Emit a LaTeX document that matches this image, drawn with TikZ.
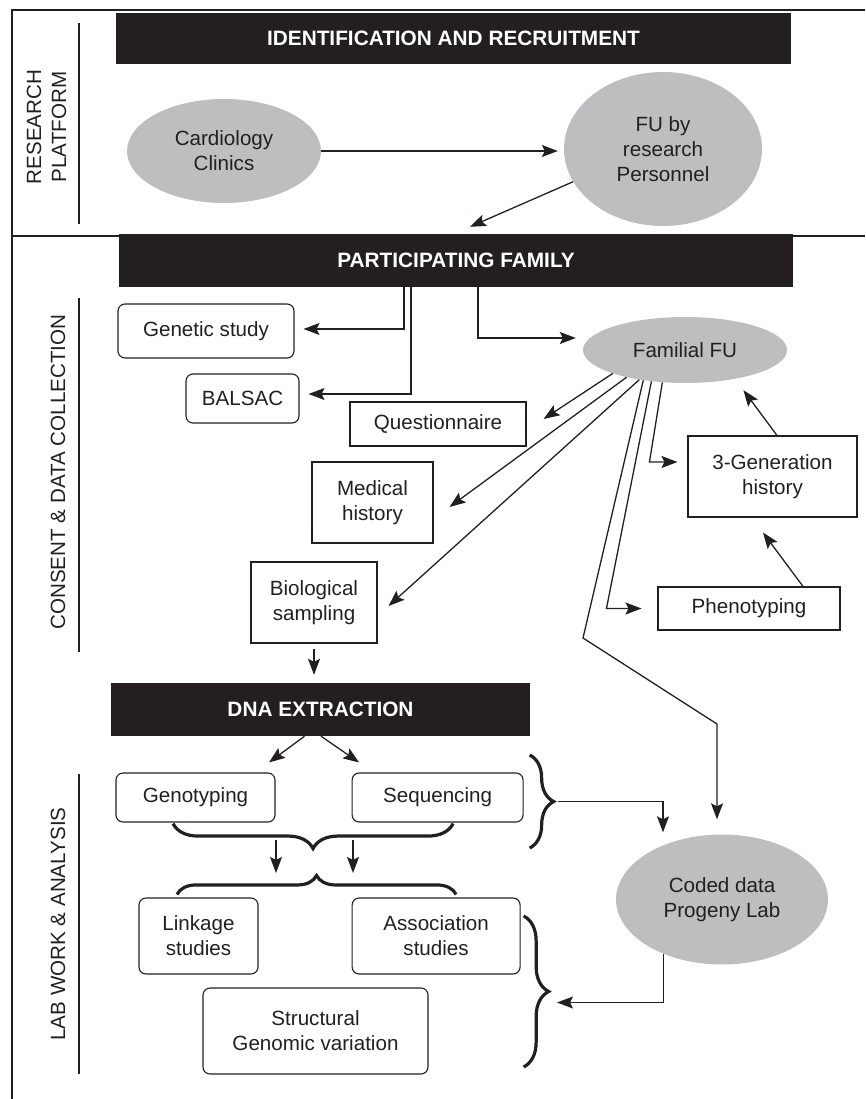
\documentclass[tikz,border=0pt]{standalone}
\usepackage{fontspec}
\setmainfont{Liberation Sans}
\usepackage{tikz}
\usetikzlibrary{positioning,arrows.meta,shapes.geometric,decorations.pathreplacing}
\definecolor{PlainInk}{RGB}{35,31,32}
\definecolor{OvalGrey}{RGB}{188,190,192}

\begin{document}
\begin{tikzpicture}[x=1pt, y=-1pt, font=\fontsize{20.6}{25}\selectfont, text=PlainInk]
  \tikzset{
    banner/.style={fill=PlainInk, text=white, font=\fontsize{20.8}{25}\selectfont\bfseries, inner sep=0pt},
    oval/.style={ellipse, fill=OvalGrey, inner sep=0pt, align=center},
    soft/.style={draw=PlainInk, line width=1.1pt, rounded corners=7pt, inner sep=0pt, align=center},
    plain/.style={draw=PlainInk, line width=1.1pt, inner sep=0pt, align=center},
    side/.style={rotate=90, align=center},
    rule/.style={draw=PlainInk, line width=2.6pt},
    frame/.style={draw=PlainInk, line width=2pt},
    arrow/.style={-{Stealth[length=16pt,width=12pt,inset=3pt]}, line width=1.3pt, draw=PlainInk},
    curly/.style={decorate, decoration={brace, amplitude=#1}, line width=3.2pt, draw=PlainInk}
  }
  \useasboundingbox (0,0) rectangle (865,1099);

  % frame and side labels
  \draw[frame] (865,10) -- (12,10) -- (12,1099);
  \draw[frame] (12,236) -- (865,236);
  \node[side] (rplab) at (46.5,127) {RESEARCH\\PLATFORM};
  \node[side] (cdlab) at (58,472) {CONSENT \& DATA COLLECTION};
  \node[side] (lwlab) at (58,924) {LAB WORK \& ANALYSIS};
  \draw[rule] (79,23) -- (79,224);
  \draw[rule] (79,298) -- (79,652);
  \draw[rule] (79,774) -- (79,1074);

  % banners
  \node[banner, minimum width=675pt, minimum height=51pt] (ident) at (453.5,38.5) {IDENTIFICATION AND RECRUITMENT};
  \node[banner, minimum width=674pt, minimum height=53pt] (family) at (456,260.5) {PARTICIPATING FAMILY};
  \node[banner, minimum width=419pt, minimum height=53pt] (dna) at (320.5,709.5) {DNA EXTRACTION};

  % ovals
  \node[oval, minimum width=194pt, minimum height=104pt] (clinics) at (224,151) {Cardiology\\Clinics};
  \node[oval, minimum width=198pt, minimum height=154pt] (fures) at (663,149) {FU by\\research\\Personnel};
  \node[oval, minimum width=204pt, minimum height=66pt] (familial) at (685,350) {Familial FU};
  \node[oval, minimum width=212pt, minimum height=130pt] (coded) at (722,899.5) {Coded data\\Progeny Lab};

  % consent & data collection
  \node[soft, minimum width=176pt, minimum height=54pt] (genetic) at (206,331) {Genetic study};
  \node[soft, minimum width=113pt, minimum height=49pt] (balsac) at (242.5,398.5) {BALSAC};
  \node[plain, minimum width=176pt, minimum height=44pt] (quest) at (438,424) {Questionnaire};
  \node[plain, minimum width=121pt, minimum height=81pt] (medical) at (372.5,502.5) {Medical\\history};
  \node[plain, minimum width=126pt, minimum height=81pt] (bio) at (314,602.5) {Biological\\sampling};
  \node[plain, minimum width=169pt, minimum height=81pt] (gen3) at (772.5,476.5) {3-Generation\\history};
  \node[plain, minimum width=182pt, minimum height=43pt] (pheno) at (749,608.5) {Phenotyping};

  % lab work & analysis
  \node[soft, minimum width=159pt, minimum height=49pt] (genotyp) at (195.5,797.5) {Genotyping};
  \node[soft, minimum width=171pt, minimum height=49pt, right=76pt of genotyp] (sequen) {Sequencing};
  \node[soft, minimum width=119pt, minimum height=76pt] (linkage) at (198.5,936) {Linkage\\studies};
  \node[soft, minimum width=168pt, minimum height=76pt, right=93pt of linkage] (assoc) {Association\\studies};
  \node[soft, minimum width=225pt, minimum height=86pt] (struct) at (315.5,1031) {Structural\\Genomic variation};

  \coordinate (bendA) at (583,638);
  \coordinate (bendB) at (717,724);
  \coordinate (splitA) at (312.5,848);
  \coordinate (tipC) at (552,801.5);
  \coordinate (tipD) at (547,991.5);

  \draw[arrow, shorten >=6pt] (clinics.east) -- (clinics.east -| fures.west);
  \draw[arrow] (fures.200) -- ([xshift=14pt,yshift=7pt]family.north);

  \draw[arrow, shorten >=9pt] ([xshift=-52pt]family.south) |- ([yshift=2pt]genetic.east);
  \draw[arrow, shorten >=9pt] ([xshift=-45pt]family.south) |- ([yshift=4.5pt]balsac.east);
  \draw[arrow, shorten >=7pt] ([xshift=22pt]family.south) |- ([yshift=12pt]familial.west);

  \draw[arrow] (familial.198) -- ([xshift=17pt,yshift=5pt]quest.east);
  \draw[arrow] (familial.205) -- ([xshift=16pt,yshift=-4.5pt]medical.east);
  \draw[arrow] (familial.213) -- ([xshift=11pt,yshift=-3.5pt]bio.east);
  \draw[arrow, shorten >=15pt] (familial.216) -- (bendA) -- (bendB) -- (bendB |- coded.north);
  \draw[arrow, shorten >=16pt] (familial.223) -- ([xshift=-51pt]pheno.west) -- (pheno.west);
  \draw[arrow, shorten >=10pt] (familial.235) -- ([xshift=-38pt,yshift=14.5pt]gen3.west) -- ([yshift=14.5pt]gen3.west);
  \draw[arrow, shorten >=14pt] ([xshift=4.5pt]gen3.north) -- (familial.330);
  \draw[arrow] ([xshift=54pt]pheno.north) -- ([xshift=-9.5pt,yshift=-15pt]gen3.south);

  \draw[arrow, shorten <=5pt, shorten >=8pt] (bio.south) -- (bio.south |- dna.north);
  \draw[arrow] ([xshift=-16pt]dna.south) -- ([xshift=73.5pt,yshift=10pt]genotyp.north);
  \draw[arrow] ([xshift=0.5pt]dna.south) -- ([xshift=-78.5pt,yshift=10pt]sequen.north);

  % braces
  \draw[curly=25pt] ([xshift=15.5pt,yshift=-1pt]sequen.south) -- ([xshift=-22.5pt,yshift=-1pt]genotyp.south);
  \draw[curly=19pt] ([xshift=-21.5pt,yshift=3pt]linkage.north) -- ([xshift=20pt,yshift=3pt]assoc.north);
  \draw[curly=24pt] ([xshift=6pt,yshift=42.5pt]sequen.east) -- ([xshift=6pt,yshift=-50.5pt]sequen.east);
  \draw[curly=25pt] ([xshift=3pt,yshift=20pt]assoc.east) -- ([xshift=3pt,yshift=-131pt]assoc.east);

  \draw[arrow] ([xshift=-36.5pt,yshift=8pt]splitA) -- ([xshift=-36.5pt,yshift=-25pt]splitA);
  \draw[arrow] ([xshift=40.5pt,yshift=8pt]splitA) -- ([xshift=40.5pt,yshift=-25pt]splitA);
  \draw[arrow] ([xshift=6pt]tipC) -| ([xshift=-59pt,yshift=2pt]coded.north);
  \draw[arrow] (coded.223) |- ([xshift=10pt,yshift=-11pt]tipD);
\end{tikzpicture}
\end{document}
